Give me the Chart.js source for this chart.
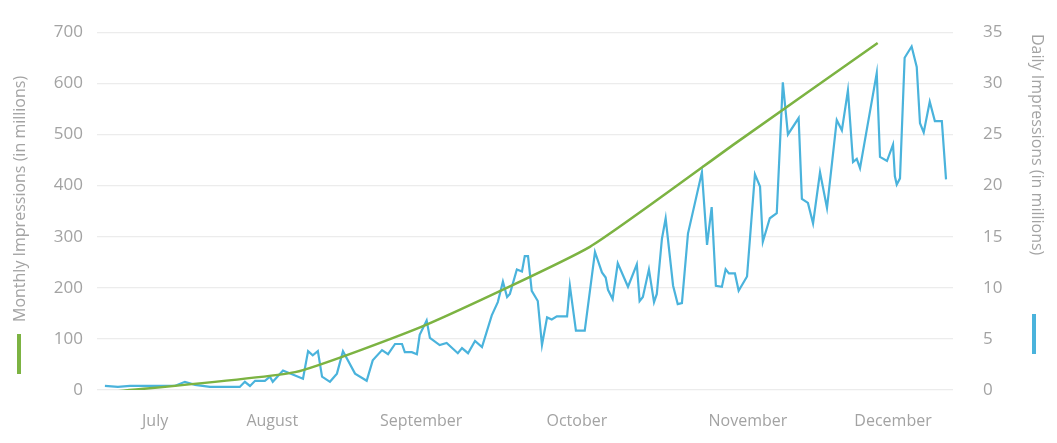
<!DOCTYPE html>
<html><head><meta charset="utf-8">
<script src="https://cdn.jsdelivr.net/npm/chart.js@4"></script>
<style>html,body{margin:0;padding:0;background:#fff}#w{width:1057px;height:443px}</style>
</head><body><div id="w"><canvas id="c"></canvas></div>
<script>
const monthLabels = ["July","August","September","October","November","December"];
const monthTickDays = [10.8,36,68,101.5,138.3,169.5];
const monthlyDays = [0,40.9,69.2,104.3,135.5,166.2];
const monthlyValues = [-5,35,128,280,482,679];
const dailyDays = [0,2.8,5.4,9.7,15,17.2,19.4,22.6,29,30.1,31.2,32.3,34.4,35.5,36.1,38.3,42.6,43.7,44.7,45.8,46.7,48.4,49.9,51.2,53.8,56.3,57.6,59.6,60.9,62.4,63.9,64.5,66,67.1,67.7,69.2,69.9,72,73.5,75.9,76.8,78.1,79.6,81.1,83.2,84.5,85.6,86.5,87.1,88.6,89.7,90.3,91,91.8,93.1,94,95.1,96.1,97.2,99.4,100,101.3,103.2,105.4,106.9,107.7,108.2,109.2,110.3,112.5,114.4,115,115.7,117,118.1,118.7,119.8,120.6,122.2,123.2,124.1,125.4,128.4,129.5,130.5,131.4,132.7,133.5,134.2,135.5,136.3,138.1,139.8,140.9,141.5,143,144.5,145.8,146.9,149.2,149.9,151.2,152.3,153.8,155.3,157.4,158.5,159.8,160.9,161.7,162.4,166,166.7,168.2,169.5,169.9,170.3,171,172,173.5,174.6,175.3,176.1,177.4,178.5,180,180.9];
const dailyValues = [0.4,0.3,0.4,0.4,0.4,0.8,0.5,0.3,0.3,0.8,0.4,0.9,0.9,1.3,0.8,1.9,1.1,3.8,3.4,3.8,1.3,0.8,1.6,3.8,1.6,0.9,2.9,3.9,3.5,4.5,4.5,3.7,3.7,3.5,5.4,6.8,5.1,4.4,4.6,3.6,4.1,3.6,4.8,4.2,7.3,8.6,10.6,9.1,9.4,11.8,11.6,13.1,13.1,9.7,8.7,4.4,7.1,6.9,7.2,7.2,10.2,5.8,5.8,13.5,11.5,11,9.8,8.9,12.4,10.1,12.3,8.7,9.1,11.8,8.6,9.4,14.8,16.8,10.2,8.4,8.5,15.3,21.3,14.2,17.9,10.2,10.1,11.8,11.4,11.4,9.7,11.1,21.1,19.9,14.5,16.8,17.3,30.1,25,26.6,18.7,18.3,16.3,21.3,17.8,26.4,25.4,29.3,22.3,22.6,21.7,31,22.8,22.4,24,20.9,20.1,20.7,32.5,33.6,31.6,26.1,25.2,28.2,26.3,26.3,20.6];

const gray = '#a3a3a3';
const decor = {
  id:'decor',
  afterDraw(ch){
    const c = ch.ctx;
    c.save();
    c.fillStyle = gray; c.font = '16px "Open Sans"';
    c.textAlign='left'; c.textBaseline='middle';
    c.translate(20, 322); c.rotate(-Math.PI/2);
    c.fillText('Monthly Impressions (in millions)', 0, 0);
    c.restore();
    c.save();
    c.fillStyle = '#7cb342'; c.fillRect(17, 334, 4, 40);
    c.fillStyle = gray; c.font = '16px "Open Sans"';
    c.textAlign='left'; c.textBaseline='middle';
    c.translate(1037, 34); c.rotate(Math.PI/2);
    c.fillText('Daily Impressions (in millions)', 0, 0);
    c.restore();
    c.save();
    c.fillStyle = '#4ab3dc'; c.fillRect(1032, 314, 4, 40);
    c.restore();
  }
};

new Chart(document.getElementById('c'), {
  type:'line',
  data:{datasets:[
    {label:'Monthly', data: monthlyDays.map((d,i)=>({x:d,y:monthlyValues[i]})), yAxisID:'y',
     borderColor:'#7cb342', borderWidth:2.5, pointRadius:0, tension:0.15, fill:false},
    {label:'Daily', data: dailyDays.map((d,i)=>({x:d,y:dailyValues[i]})), yAxisID:'y1',
     borderColor:'#4ab3dc', borderWidth:2.2, pointRadius:0, tension:0, fill:false}
  ]},
  options:{
    responsive:true, maintainAspectRatio:false, animation:false,
    layout:{padding:{top:14,bottom:0,left:0,right:0}},
    plugins:{legend:{display:false}, tooltip:{enabled:false}},
    scales:{
      x:{type:'linear', min:-1.7, max:182.4,
        afterBuildTicks(s){ s.ticks = monthTickDays.map(v=>({value:v})); },
        ticks:{callback:(v,i)=>monthLabels[i], color:gray, font:{family:'Open Sans',size:16}, maxRotation:0, autoSkip:false, padding:14},
        grid:{display:false}, border:{display:false},
        afterFit(s){ s.height = 53; }},
      y:{position:'left', min:0, max:700,
        ticks:{stepSize:100, color:gray, font:{family:'Open Sans',size:17}, padding:14},
        grid:{color:'#ececec', lineWidth:1.2, drawTicks:false}, border:{display:false},
        afterFit(s){ s.width = 97; }},
      y1:{position:'right', min:0, max:35,
        ticks:{stepSize:5, color:gray, font:{family:'Open Sans',size:17}, padding:22},
        grid:{display:false}, border:{display:false},
        afterFit(s){ s.width = 104; }}
    }
  },
  plugins:[decor]
});
</script></body></html>
